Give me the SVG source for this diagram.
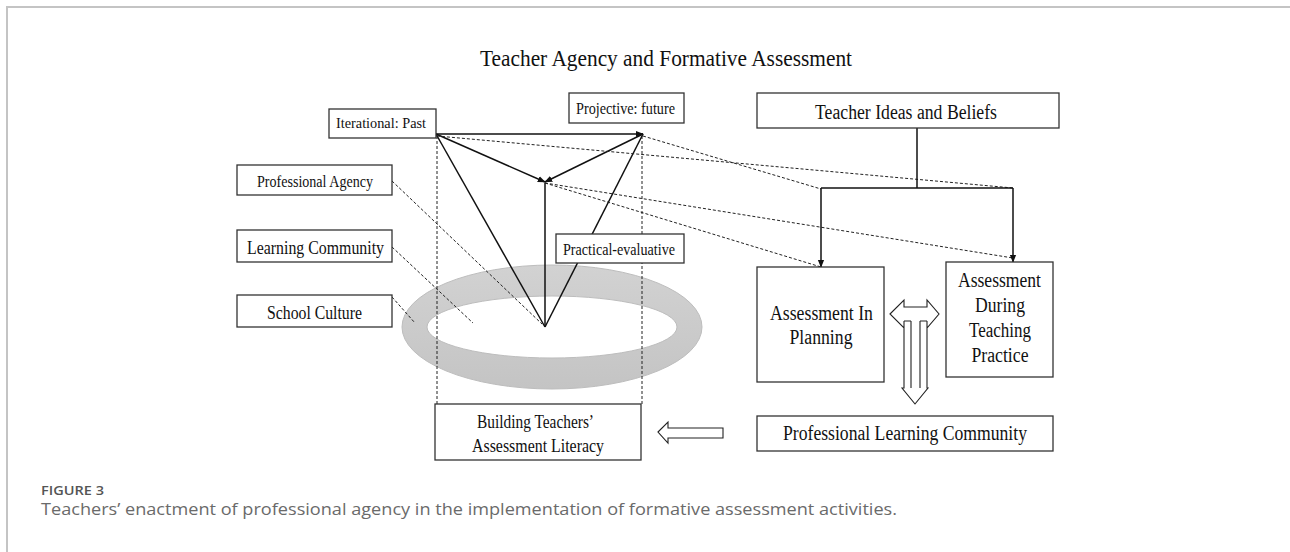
<svg xmlns="http://www.w3.org/2000/svg" width="1290" height="552" viewBox="0 0 1290 552">
<defs>
<style>
.frame{stroke:#c4c4c4;stroke-width:2;fill:none}
.box{fill:#fff;stroke:#333;stroke-width:1.3}
.t{font-family:"Liberation Serif","Times New Roman",serif;fill:#111;text-anchor:middle}
.ln{stroke:#111;stroke-width:1.5;fill:none}
.dash{stroke:#222;stroke-width:1;stroke-dasharray:3,2;fill:none}
.hollow{fill:#fff;stroke:#222;stroke-width:1.1;stroke-linejoin:miter}
.thin{stroke:#222;stroke-width:1.1;fill:none}
.cap1{font-family:"Open Sans","Liberation Sans",sans-serif;font-weight:600;fill:#555;font-size:13px}
.cap2{font-family:"Open Sans","Liberation Sans",sans-serif;fill:#6a6a6a;font-size:16px}
</style>
<marker id="ah" viewBox="0 0 10 10" refX="9" refY="5" markerWidth="8" markerHeight="8" markerUnits="userSpaceOnUse" orient="auto">
<path d="M0,1 L10,5 L0,9 Z" fill="#111"/>
</marker>
<linearGradient id="rg" x1="0" y1="0" x2="0" y2="1">
<stop offset="0" stop-color="#d2d2d2"/>
<stop offset="1" stop-color="#c4c4c4"/>
</linearGradient>
</defs>
<rect width="1290" height="552" fill="#fff"/>
<path class="frame" d="M7,552 L7,7 L1290,7"/>
<text class="t" x="666" y="66" font-size="24" textLength="372" lengthAdjust="spacingAndGlyphs">Teacher Agency and Formative Assessment</text>

<g id="ring">
<path d="M402,327 a150,62 0 1,0 300,0 a150,62 0 1,0 -300,0 Z M427,327 a125,31 0 1,0 250,0 a125,31 0 1,0 -250,0 Z" fill="url(#rg)" fill-rule="evenodd" stroke="#bdbdbd" stroke-width="1"/>
</g>

<g id="connectors">
<line class="dash" x1="437" y1="136" x2="437" y2="404"/>
<line class="dash" x1="642" y1="136" x2="642" y2="404"/>
<line class="ln" x1="436" y1="134" x2="643" y2="134" marker-end="url(#ah)"/>
<line class="ln" x1="436" y1="134" x2="545" y2="182" marker-end="url(#ah)"/>
<line class="ln" x1="643" y1="134" x2="545" y2="182" marker-end="url(#ah)"/>
<line class="ln" x1="436" y1="134" x2="545" y2="327"/>
<line class="ln" x1="643" y1="134" x2="545" y2="327"/>
<line class="ln" x1="545" y1="327" x2="545" y2="183"/>
<line class="dash" x1="437" y1="136" x2="1013" y2="188"/>
<line class="dash" x1="643" y1="136" x2="821" y2="189"/>
<line class="dash" x1="545" y1="183" x2="1013" y2="258"/>
<line class="dash" x1="545" y1="183" x2="821" y2="267"/>
<line class="dash" x1="392" y1="181" x2="542" y2="324"/>
<line class="dash" x1="392" y1="247" x2="473" y2="323"/>
<line class="dash" x1="392" y1="297" x2="415" y2="323"/>
<line class="ln" x1="917" y1="128" x2="917" y2="188"/>
<line class="ln" x1="821" y1="188" x2="1013" y2="188"/>
<line class="ln" x1="821" y1="188" x2="821" y2="267" marker-end="url(#ah)"/>
<line class="ln" x1="1013" y1="188" x2="1013" y2="262" marker-end="url(#ah)"/>
<path class="hollow" d="M890,314 L904,300 L904,307 L927,307 L927,300 L939,314 L927,328 L927,321 L927,388 L928,388 L915,404 L902,388 L904,388 L904,321 L904,328 Z"/>
<path class="thin" d="M904,321 L911,321 M920,321 L927,321 M911,321 L911,388 M920,321 L920,388"/>
<path class="hollow" d="M658,432 L668,422 L668,428 L723,428 L723,438 L668,438 L668,443 Z"/>
</g>

<g id="iterational">
<rect class="box" x="329" y="109" width="107" height="29"/>
<text class="t" x="381" y="128" font-size="15" textLength="90" lengthAdjust="spacingAndGlyphs">Iterational: Past</text>
</g>
<g id="projective">
<rect class="box" x="569" y="93" width="115" height="30"/>
<text class="t" x="625.5" y="114" font-size="16" textLength="99" lengthAdjust="spacingAndGlyphs">Projective: future</text>
</g>
<g id="professional-agency">
<rect class="box" x="237" y="165" width="155" height="30"/>
<text class="t" x="315" y="187" font-size="16" textLength="116" lengthAdjust="spacingAndGlyphs">Professional Agency</text>
</g>
<g id="learning-community">
<rect class="box" x="237" y="230" width="155" height="32"/>
<text class="t" x="315.5" y="254" font-size="18" textLength="137" lengthAdjust="spacingAndGlyphs">Learning Community</text>
</g>
<g id="school-culture">
<rect class="box" x="237" y="295" width="155" height="32"/>
<text class="t" x="314.5" y="319" font-size="18" textLength="95" lengthAdjust="spacingAndGlyphs">School Culture</text>
</g>
<g id="practical-evaluative">
<rect class="box" x="556" y="234" width="128" height="29"/>
<text class="t" x="619" y="255" font-size="17" textLength="112" lengthAdjust="spacingAndGlyphs">Practical-evaluative</text>
</g>
<g id="teacher-ideas">
<rect class="box" x="757" y="93" width="302" height="35"/>
<text class="t" x="906" y="119" font-size="20" textLength="182" lengthAdjust="spacingAndGlyphs">Teacher Ideas and Beliefs</text>
</g>
<g id="assessment-planning">
<rect class="box" x="757" y="267" width="127" height="115"/>
<text class="t" x="821.5" y="320" font-size="20" textLength="103" lengthAdjust="spacingAndGlyphs">Assessment In</text>
<text class="t" x="821" y="344" font-size="20" textLength="63" lengthAdjust="spacingAndGlyphs">Planning</text>
</g>
<g id="assessment-during">
<rect class="box" x="946" y="262" width="107" height="115"/>
<text class="t" x="999.5" y="287" font-size="20" textLength="83" lengthAdjust="spacingAndGlyphs">Assessment</text>
<text class="t" x="1000" y="312" font-size="20" textLength="50" lengthAdjust="spacingAndGlyphs">During</text>
<text class="t" x="1000" y="337" font-size="20" textLength="62" lengthAdjust="spacingAndGlyphs">Teaching</text>
<text class="t" x="1000" y="362" font-size="20" textLength="57" lengthAdjust="spacingAndGlyphs">Practice</text>
</g>
<g id="plc">
<rect class="box" x="757" y="416" width="296" height="35"/>
<text class="t" x="905" y="440" font-size="20" textLength="244" lengthAdjust="spacingAndGlyphs">Professional Learning Community</text>
</g>
<g id="building">
<rect class="box" x="435" y="404" width="206" height="56"/>
<text class="t" x="535.5" y="428" font-size="19" textLength="117" lengthAdjust="spacingAndGlyphs">Building Teachers’</text>
<text class="t" x="538" y="452" font-size="19" textLength="132" lengthAdjust="spacingAndGlyphs">Assessment Literacy</text>
</g>

<text class="cap1" x="41" y="495" textLength="63" lengthAdjust="spacingAndGlyphs">FIGURE 3</text>
<text class="cap2" x="41" y="515" textLength="856" lengthAdjust="spacingAndGlyphs">Teachers’ enactment of professional agency in the implementation of formative assessment activities.</text>
</svg>
